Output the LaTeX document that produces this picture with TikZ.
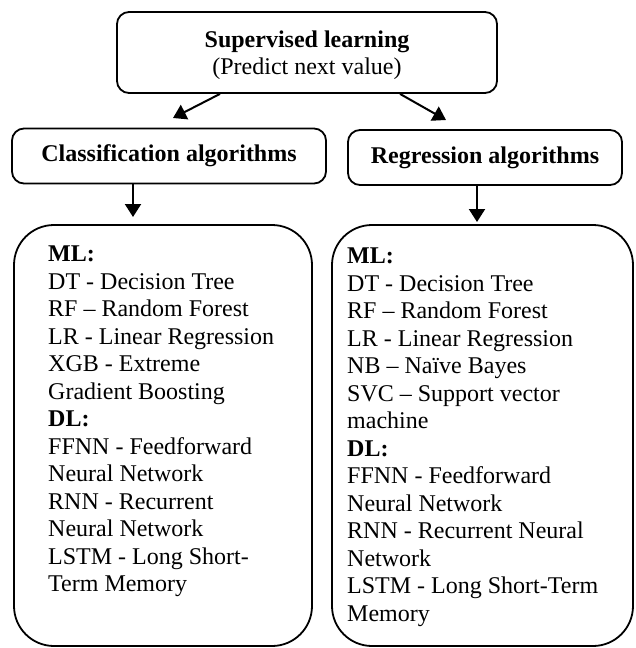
\documentclass[tikz,border=0pt]{standalone}
\usepackage{fontspec}
\setmainfont{Liberation Serif}
\usetikzlibrary{arrows.meta}

\tikzset{
	box/.style={draw, line width=1.8pt, rounded corners=12pt, inner sep=0pt},
	bigbox/.style={draw, line width=1.8pt, rounded corners=40pt, inner sep=0pt},
	arr/.style={line width=2pt, -{Triangle[length=13pt,width=16pt]}},
	txt/.style={font=\fontsize{24}{27.5}\selectfont, inner sep=0pt}
}

\begin{document}
\begin{tikzpicture}[x=1pt, y=-1pt]
		\useasboundingbox (0, 0) rectangle (635, 648);
		\node [box, minimum width=380pt, minimum height=81pt] (sup) at (307, 52.5) {};
		\node [txt, align=center] (suptext) at (307, 55) {\textbf{Supervised learning}\\(Predict next value)};
		\node [box, minimum width=314pt, minimum height=55pt] (cls) at (169, 156) {};
		\node [txt] (clstext) at (169, 156) {\textbf{Classification algorithms}};
		\node [box, minimum width=274pt, minimum height=55pt] (reg) at (485, 157.5) {};
		\node [txt] (regtext) at (485, 157.5) {\textbf{Regression algorithms}};
		\node [bigbox, minimum width=298pt, minimum height=421pt] (clsbox) at (163, 435.5) {};
		\node [bigbox, minimum width=301pt, minimum height=421pt] (regbox) at (482.5, 435.5) {};
		\node [txt, align=left, anchor=north west] (clslist) at (48, 246) {\textbf{ML:}\\DT - Decision Tree\\RF – Random Forest\\LR - Linear Regression\\XGB - Extreme\\Gradient Boosting\\\textbf{DL:}\\FFNN - Feedforward\\Neural Network\\RNN - Recurrent\\Neural Network\\LSTM - Long Short-\\Term Memory};
		\node [txt, align=left, anchor=north west] (reglist) at (347, 248) {\textbf{ML:}\\DT - Decision Tree\\RF – Random Forest\\LR - Linear Regression\\NB – Naïve Bayes\\SVC – Support vector\\machine\\\textbf{DL:}\\FFNN - Feedforward\\Neural Network\\RNN - Recurrent Neural\\Network\\LSTM - Long Short-Term\\Memory};
		\coordinate (clstip) at (173, 118);
		\coordinate (regtip) at (446, 120);
		\coordinate (clsdown) at (133, 217);
		\coordinate (regdown) at (477, 222);
		\draw [arr] ([xshift=-87pt]sup.south) -- (clstip);
		\draw [arr] ([xshift=93pt]sup.south) -- (regtip);
		\draw [arr] (cls.south -| clsdown) -- (clsdown);
		\draw [arr] (reg.south -| regdown) -- (regdown);
	\end{tikzpicture}
\end{document}
